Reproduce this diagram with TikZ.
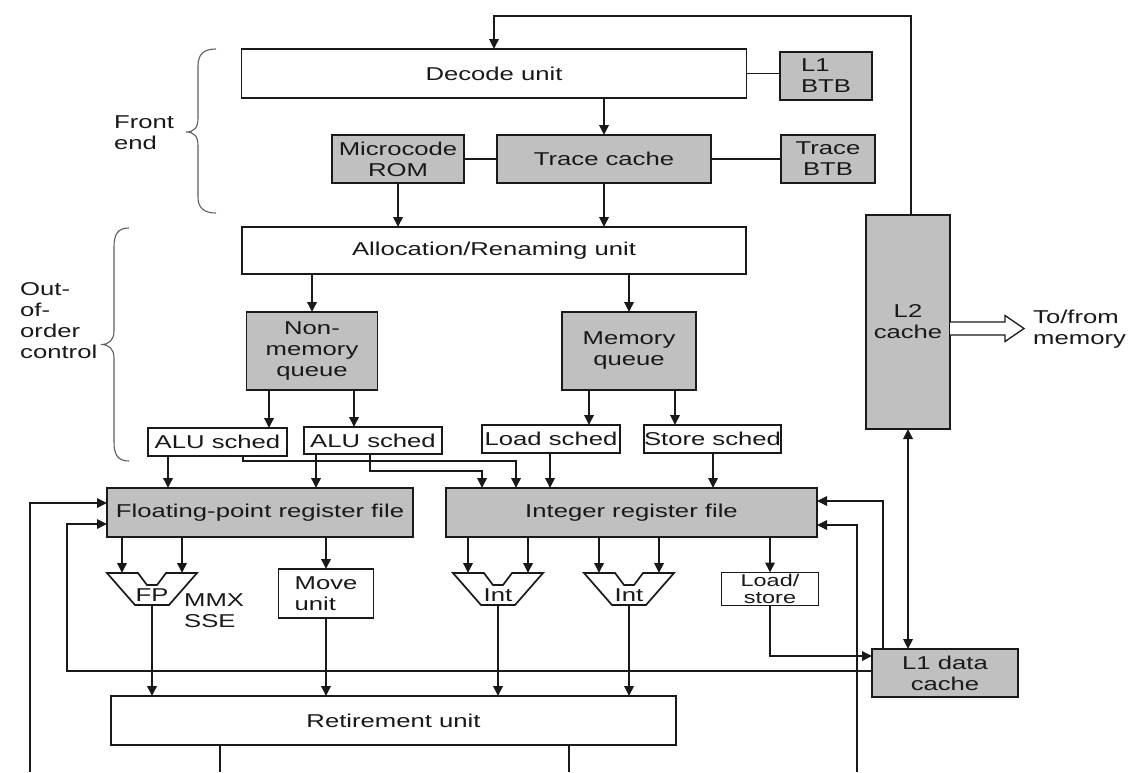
\documentclass[tikz,border=0pt]{standalone}
\usepackage{fontspec}
\setmainfont{Liberation Sans}[FakeStretch=1.38]
\usetikzlibrary{arrows.meta,calc}
\definecolor{boxgray}{RGB}{192,192,192}
\definecolor{ink}{RGB}{25,25,25}
\definecolor{bracegray}{RGB}{95,95,95}

\tikzset{
  outline/.style={draw=ink, line width=1.7pt},
  blk/.style n args={2}{outline, minimum width=#1pt, minimum height=#2pt,
    inner sep=0pt, outer sep=0pt, align=center, text=ink},
  shaded/.style={fill=boxgray},
  link/.style={draw=ink, line width=1.8pt},
  arr/.style={link, -{Triangle[length=10pt,width=9.5pt]}},
  biarr/.style={link, {Triangle[length=10pt,width=9.5pt]}-{Triangle[length=10pt,width=9.5pt]}},
  bracket/.style={draw=bracegray, line width=1.1pt},
  label/.style={inner sep=0pt, text=ink, align=left},
}

% ALU symbol: name, centre x, text
\newcommand\aluunit[3]{%
  \coordinate (#1) at (#2,589);
  \draw[outline, fill=white] ($(#1)+(-45,-16)$) -- ($(#1)+(-14,-16)$) -- ($(#1)+(-5,-4)$)
    -- ($(#1)+(5,-4)$) -- ($(#1)+(14,-16)$) -- ($(#1)+(45,-16)$) -- ($(#1)+(17,16)$)
    -- ($(#1)+(-17,16)$) -- cycle;
  \node[label] (#1-label) at ($(#1)+(0,6)$) {#3};
  \coordinate (#1-a) at ($(#1)+(-30,-16)$);
  \coordinate (#1-b) at ($(#1)+(30,-16)$);
  \coordinate (#1-out) at ($(#1)+(0,16)$);
}

\begin{document}
\begin{tikzpicture}[x=1pt, y=-1pt, font=\fontsize{18.6}{21}\selectfont]
\useasboundingbox (0,0) rectangle (1131,772);
\fill[white] (0,0) rectangle (1131,772);

% ---- front end ----
\node[blk={505}{49}] (decode) at (494,73.5) {Decode unit};
\node[blk={92}{48}, shaded, align=left] (l1btb) at (826,76) {L1\\BTB};
\node[blk={132}{48}, shaded] (ucode) at (398,159) {Microcode\\ROM};
\node[blk={214}{48}, shaded] (trace) at (604,159) {Trace cache};
\node[blk={94}{48}, shaded] (tracebtb) at (828,159) {Trace\\BTB};

% ---- out-of-order control ----
\node[blk={504}{47}] (alloc) at (494,250.5) {Allocation/Renaming unit};
\node[blk={131}{78}, shaded] (nonmem) at (312,351) {Non-\\memory\\queue};
\node[blk={134}{78}, shaded] (memq) at (629,351) {Memory\\queue};
\node[blk={139}{28}] (alu1) at (217.5,442) {ALU sched};
\node[blk={138}{27}] (alu2) at (373,440.5) {ALU sched};
\node[blk={138}{28}] (loads) at (551,439) {Load sched};
\node[blk={137}{28}] (stores) at (712.5,439) {Store sched};

% ---- register files and execution ----
\node[blk={306}{49}, shaded] (fpreg) at (260,512.5) {Floating-point register file};
\node[blk={371}{49}, shaded] (intreg) at (631.5,512.5) {Integer register file};
\node[blk={95}{49}, align=left] (move) at (326,593.5) {Move\\unit};
\node[blk={97}{33}, font=\fontsize{17}{16.3}\selectfont] (ldst) at (770,589) {Load/\\store};
\aluunit{fpalu}{152}{FP}
\aluunit{intalu1}{498}{Int}
\aluunit{intalu2}{629}{Int}
\node[label, anchor=west] (mmx) at (184,610.5) {MMX\\SSE};

% ---- caches and retirement ----
\node[blk={84}{214}, shaded] (l2) at (908,322) {L2\\cache};
\node[blk={146}{48}, shaded] (l1d) at (945,673) {L1 data\\cache};
\node[blk={565}{49}] (retire) at (393.5,720.5) {Retirement unit};

% ---- group labels and braces ----
\node[label, anchor=west] (fe) at (114,132.5) {Front\\end};
\node[label, anchor=west] (ooo) at (20,321) {Out-\\of-\\order\\control};
\draw[bracket] (216,49) .. controls (204,49) and (198,54) .. (198,66) -- (198,118)
  .. controls (198,128) and (194,132) .. (186,132) .. controls (194,132) and (198,136) .. (198,146)
  -- (198,197) .. controls (198,208) and (204,213) .. (216,213);
\draw[bracket] (129,228) .. controls (118,228) and (114,234) .. (114,247) -- (114,331)
  .. controls (114,340) and (109,344.5) .. (101,344.5) .. controls (109,344.5) and (114,349) .. (114,358)
  -- (114,442) .. controls (114,455) and (118,461) .. (129,461);

% ---- connectors: front end ----
\coordinate (loop) at (700,16);
\draw[arr] ([xshift=3pt]l2.north) |- (loop) -| (decode.north);
\draw[link] (decode.east) -- (decode.east -| l1btb.west);
\draw[arr] (decode.south -| trace.north) -- (trace.north);
\draw[link] (ucode.east) -- (ucode.east -| trace.west);
\draw[link] (trace.east) -- (trace.east -| tracebtb.west);
\draw[arr] (ucode.south) -- (ucode.south |- alloc.north);
\draw[arr] (trace.south) -- (trace.south |- alloc.north);

% ---- connectors: queues and schedulers ----
\draw[arr] (alloc.south -| nonmem.north) -- (nonmem.north);
\draw[arr] (alloc.south -| memq.north) -- (memq.north);
\draw[arr] (nonmem.south -| 269,0) -- (alu1.north -| 269,0);
\draw[arr] (nonmem.south -| 354,0) -- (alu2.north -| 354,0);
\draw[arr] (memq.south -| 589,0) -- (loads.north -| 589,0);
\draw[arr] (memq.south -| 675,0) -- (stores.north -| 675,0);

% ---- connectors: schedulers to register files ----
\draw[arr] (alu1.south -| 168,0) -- (fpreg.north -| 168,0);
\draw[arr] (alu2.south -| 316,0) -- (fpreg.north -| 316,0);
\draw[arr] (alu1.south -| 243,0) |- (516,461) -- (intreg.north -| 516,0);
\draw[arr] (alu2.south -| 370,0) |- (482,471) -- (intreg.north -| 482,0);
\draw[arr] (loads.south -| 550,0) -- (intreg.north -| 550,0);
\draw[arr] (stores.south -| 713,0) -- (intreg.north -| 713,0);

% ---- connectors: register files to units ----
\draw[arr] (fpreg.south -| fpalu-a) -- (fpalu-a);
\draw[arr] (fpreg.south -| fpalu-b) -- (fpalu-b);
\draw[arr] (fpreg.south -| move.north) -- (move.north);
\draw[arr] (intreg.south -| intalu1-a) -- (intalu1-a);
\draw[arr] (intreg.south -| intalu1-b) -- (intalu1-b);
\draw[arr] (intreg.south -| intalu2-a) -- (intalu2-a);
\draw[arr] (intreg.south -| intalu2-b) -- (intalu2-b);
\draw[arr] (intreg.south -| ldst.north) -- (ldst.north);

% ---- connectors: units to retirement ----
\draw[arr] (fpalu-out) -- (fpalu-out |- retire.north);
\draw[arr] (move.south) -- (move.south |- retire.north);
\draw[arr] (intalu1-out) -- (intalu1-out |- retire.north);
\draw[arr] (intalu2-out) -- (intalu2-out |- retire.north);

% ---- connectors: memory side ----
\draw[arr] (ldst.south) |- (l1d.west |- 0,656);
\draw[biarr] (l2.south) -- (l2.south |- l1d.north);
\draw[arr] (l1d.north -| 883,0) |- (intreg.east |- 0,501);
\coordinate (rightin) at (857,772);
\draw[arr] (rightin) |- (intreg.east |- 0,525);
\coordinate (fpback) at (67,671);
\draw[arr] (l1d.west |- 0,671) -- (fpback) |- (fpreg.west |- 0,524);
\coordinate (leftin) at (30,772);
\draw[arr] (leftin) |- (fpreg.west |- 0,503);
\coordinate (retout1) at (220,772);
\coordinate (retout2) at (569,772);
\draw[link] (retire.south -| retout1) -- (retout1);
\draw[link] (retire.south -| retout2) -- (retout2);

% ---- memory port of the L2 cache ----
\draw[draw=ink, line width=1.3pt, fill=white] (l2.east |- 0,322) -- (1005,322) -- (1005,315.5)
  -- (1024,328.5) -- (1005,341.5) -- (1005,335) -- (l2.east |- 0,335);
\node[label, anchor=west] (mem) at (1033,329) {To/from\\memory};
\end{tikzpicture}
\end{document}
